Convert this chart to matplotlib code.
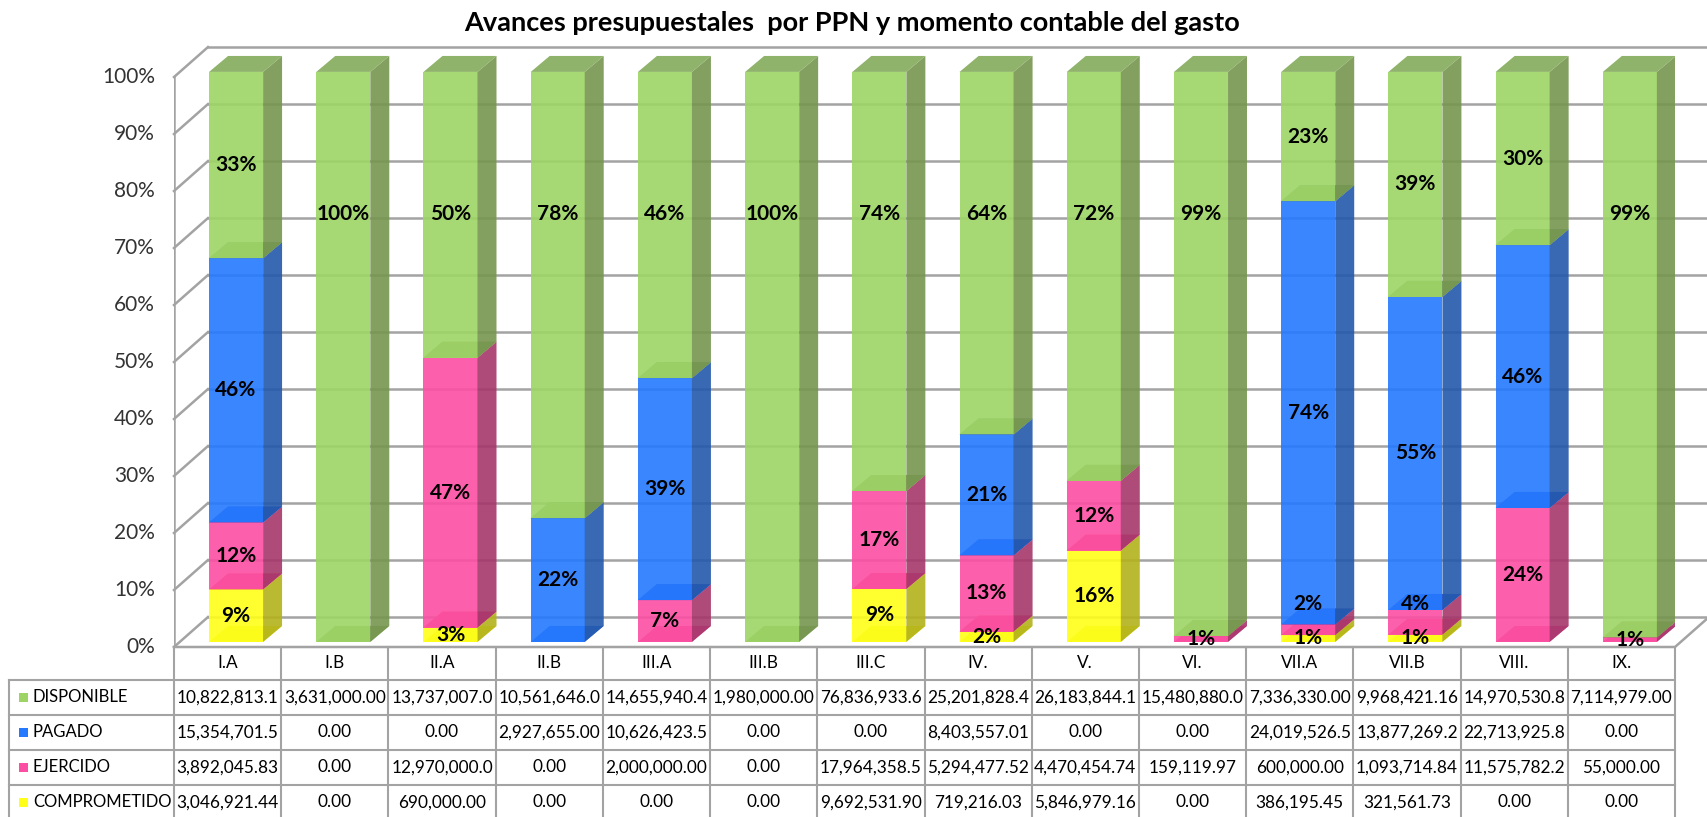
import matplotlib
matplotlib.use("Agg")
import matplotlib.pyplot as plt
from matplotlib.patches import Polygon, Rectangle

plt.rcParams['font.family'] = ['Lato', 'DejaVu Sans']

categorias = ['I.A', 'I.B', 'II.A', 'II.B', 'III.A', 'III.B', 'III.C', 'IV.', 'V.',
              'VI.', 'VII.A', 'VII.B', 'VIII.', 'IX.']
disponible = [10822813.10, 3631000.00, 13737007.00, 10561646.00, 14655940.40, 1980000.00,
              76836933.60, 25201828.40, 26183844.10, 15480880.00, 7336330.00, 9968421.16,
              14970530.80, 7114979.00]
pagado = [15354701.50, 0.00, 0.00, 2927655.00, 10626423.50, 0.00, 0.00, 8403557.01, 0.00,
          0.00, 24019526.50, 13877269.20, 22713925.80, 0.00]
ejercido = [3892045.83, 0.00, 12970000.00, 0.00, 2000000.00, 0.00, 17964358.50, 5294477.52,
            4470454.74, 159119.97, 600000.00, 1093714.84, 11575782.20, 55000.00]
comprometido = [3046921.44, 0.00, 690000.00, 0.00, 0.00, 0.00, 9692531.90, 719216.03,
                5846979.16, 0.00, 386195.45, 321561.73, 0.00, 0.00]

# data labels as printed on the chart (None = no label)
lbl_disponible = [33, 100, 50, 78, 46, 100, 74, 64, 72, 99, 23, 39, 30, 99]
lbl_pagado = [46, None, None, 22, 39, None, None, 21, None, None, 74, 55, 46, None]
lbl_ejercido = [12, None, 47, None, 7, None, 17, 13, 12, 1, 2, 4, 24, 1]
lbl_comprometido = [9, None, 3, None, None, None, 9, 2, 16, None, 1, 1, None, None]

# stacked bottom -> top
series = [('COMPROMETIDO', comprometido, lbl_comprometido),
          ('EJERCIDO', ejercido, lbl_ejercido),
          ('PAGADO', pagado, lbl_pagado),
          ('DISPONIBLE', disponible, lbl_disponible)]
# front, side, top colours
colores = {
    'DISPONIBLE': ('#9dd465', '#76964f', '#84ab5c'),
    'PAGADO': ('#2479ff', '#2459ab', '#1e5fe6'),
    'EJERCIDO': ('#fc4fa3', '#a5376b', '#ee4189'),
    'COMPROMETIDO': ('#ffff19', '#b3b21b', '#e6e617'),
}

fig = plt.figure(figsize=(17.07, 8.17), dpi=100)
ax = fig.add_axes([174 / 1707, 170 / 817, 1501 / 1707, 607 / 817])
ax.set_xlim(-0.5, 13.5)
ax.set_ylim(0, 106.5)
ax.axis('off')

# fake 3d depth (data units)
wdx, wdy = 0.317, 5.26      # walls
sx, sy = 0.079, 0.9         # bar front offset from floor edge
bdx, bdy = 0.177, 2.8       # bar depth
bw = 0.504
gris = '#a3a3a3'

# walls and gridlines
for v in range(0, 101, 10):
    ax.plot([-0.5, -0.5 + wdx], [v, v + wdy], color=gris, lw=1.8, zorder=1, clip_on=False)
    ax.plot([-0.5 + wdx, 13.5 + wdx], [v + wdy, v + wdy], color=gris, lw=1.8, zorder=1, clip_on=False)
    ax.text(-0.677, v, f'{v}%', ha='right', va='center', fontsize=15, color='#333333')
ax.plot([-0.5, -0.5], [0, 100], color=gris, lw=1.8, zorder=1)
ax.plot([-0.5, 13.5, 13.5 + wdx], [0, 0, wdy], color=gris, lw=1.8, zorder=1, clip_on=False)

n = len(categorias)
for i in range(n):
    total = sum(s[1][i] for s in series)
    base = 0.0
    prev_lab = -99
    x0 = i + sx - bw / 2
    x1 = x0 + bw
    for nombre, vals, lbls in series:
        h = vals[i] / total * 100
        if h <= 0:
            continue
        y0 = base + sy
        y1 = base + h + sy
        fc, sc, tc = colores[nombre]
        ax.add_patch(Polygon([(x0, y0), (x1, y0), (x1 + bdx, y0 + bdy), (x0 + bdx, y0 + bdy)],
                             closed=True, fc=tc, ec='none', alpha=0.9, zorder=2))
        ax.add_patch(Rectangle((x0, y0), bw, h, fc=fc, ec='none', alpha=0.9, zorder=2))
        ax.add_patch(Polygon([(x1, y0), (x1 + bdx, y0 + bdy), (x1 + bdx, y1 + bdy), (x1, y1)],
                             closed=True, fc=sc, ec='none', alpha=0.9, zorder=2))
        ax.add_patch(Polygon([(x0, y1), (x1, y1), (x1 + bdx, y1 + bdy), (x0 + bdx, y1 + bdy)],
                             closed=True, fc=tc, ec='none', alpha=0.9, zorder=2))
        if lbls[i] is not None:
            # excel keeps the top label in the upper half
            if nombre == 'DISPONIBLE':
                ly = (max(base, 50) + 100) / 2
            else:
                ly = base + h / 2
            ly = max(ly, prev_lab + 6)
            prev_lab = ly
            ax.text(i + sx, ly + sy, f'{lbls[i]}%', ha='center', va='center', fontsize=15,
                    fontweight='bold', color='black', zorder=6)
        base += h

fig.text(0.499, 0.972, 'Avances presupuestales  por PPN y momento contable del gasto',
         ha='center', va='center', fontsize=19.5, fontweight='bold')

# data table under the chart
rh = 35 / 5.7
hh = 33 / 5.7
left = -0.5 - 165 / 107.2
ybot = -hh - 4 * rh
for k in range(n + 1):
    ax.plot([k - 0.5, k - 0.5], [0, ybot], color=gris, lw=1.5, clip_on=False)
ax.plot([left, left], [-hh, ybot], color=gris, lw=1.5, clip_on=False)
for r in range(5):
    yy = -hh - r * rh
    ax.plot([left, 13.5], [yy, yy], color=gris, lw=1.5, clip_on=False)
for i, c in enumerate(categorias):
    ax.text(i, -hh / 2, c, ha='center', va='center', fontsize=12.4, color='black')

for r, (nombre, vals, lbls) in enumerate(reversed(series)):
    yc = -hh - r * rh - rh / 2
    ax.add_patch(Rectangle((left + 10 / 107.2, yc - 4.5 / 5.7), 9 / 107.2, 9 / 5.7,
                           fc=colores[nombre][0], ec='none', clip_on=False))
    ax.text(left + 24 / 107.2, yc, nombre, ha='left', va='center', fontsize=12)
    for i in range(n):
        txt = f'{vals[i]:,.2f}'[:12]
        ax.text(i, yc, txt, ha='center', va='center', fontsize=12.4)

fig.savefig('out.png', dpi=100)
